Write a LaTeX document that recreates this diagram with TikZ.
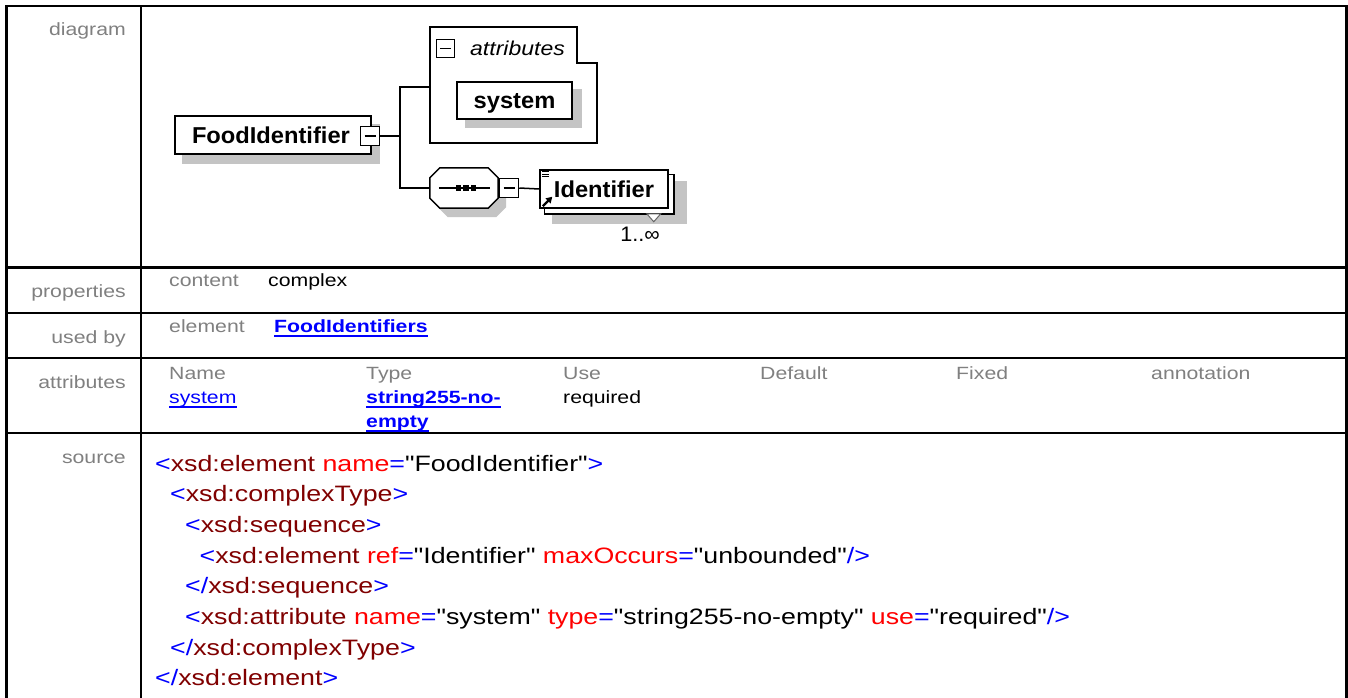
\documentclass[tikz,border=0pt]{standalone}
\usepackage{fontspec}
\setmainfont{Liberation Sans}
\newfontfamily\htmlfont[FakeStretch=1.2]{Liberation Sans}
\newfontfamily\diafont[FakeStretch=1.03]{Liberation Sans}
\newfontfamily\attfont[FakeStretch=1.15]{Liberation Sans}
\usetikzlibrary{arrows.meta,backgrounds,calc}
\definecolor{xgrey}{RGB}{128,128,128}
\definecolor{xblue}{RGB}{0,0,255}
\definecolor{xmaroon}{RGB}{128,0,0}
\definecolor{xred}{RGB}{255,0,0}
\definecolor{xshade}{RGB}{196,196,196}
\newcommand\tb[1]{\textcolor{xblue}{#1}}
\newcommand\tn[1]{\textcolor{xmaroon}{#1}}
\newcommand\ta[1]{\textcolor{xred}{#1}}
\newcommand\octo[3]{($(#1.north west)+(10+#2,#3)$) -- ($(#1.north east)+(-10+#2,#3)$) -- ($(#1.north east)+(#2,10+#3)$) -- ($(#1.south east)+(#2,-10+#3)$) -- ($(#1.south east)+(-10+#2,#3)$) -- ($(#1.south west)+(10+#2,#3)$) -- ($(#1.south west)+(#2,-10+#3)$) -- ($(#1.north west)+(#2,10+#3)$) -- cycle}
\begin{document}
\begin{tikzpicture}[x=1pt,y=-1pt,
  lab/.style={anchor=base east, inner sep=0pt, text=xgrey, font=\htmlfont\fontsize{17.7}{20}\selectfont},
  key/.style={anchor=base west, inner sep=0pt, text=xgrey, font=\htmlfont\fontsize{17.7}{20}\selectfont},
  val/.style={anchor=base west, inner sep=0pt, text=black, font=\htmlfont\fontsize{17.7}{20}\selectfont},
  link/.style={anchor=base west, inner sep=0pt, text=xblue, font=\htmlfont\fontsize{17.7}{20}\selectfont},
  blink/.style={anchor=base west, inner sep=0pt, text=xblue, font=\htmlfont\bfseries\fontsize{17.7}{20}\selectfont},
  ul/.style={draw=xblue, line width=1.6pt},
  srcline/.style={anchor=base west, inner sep=0pt, font=\htmlfont\fontsize{22.3}{26}\selectfont},
  grid/.style={line width=2.4pt, draw=black},
  frame/.style={draw=black, line width=1.5pt},
  elbox/.style={frame, fill=white, inner xsep=0pt, inner ysep=0pt, text height=16.5pt, text depth=0pt, font=\diafont\bfseries\fontsize{23}{26}\selectfont},
  minus/.style={frame, fill=white, minimum width=19pt, minimum height=19pt, inner sep=0pt},
  conn/.style={line width=1.5pt},
  shade/.style={fill=xshade},
]
\useasboundingbox (0,0) rectangle (1348,698);

% ---------- table grid ----------
\draw[grid] (6.5,698) -- (6.5,6) -- (1346.5,6) -- (1346.5,698);
\draw[grid] (141,6) -- (141,698);
\foreach \yy in {267.5,313,358,433} \draw[grid] (6.5,\yy) -- (1346.5,\yy);

% ---------- row labels ----------
\node[lab] (ldiag) at (126,36) {diagram};
\node[lab] (lprop) at (126,297.5) {properties};
\node[lab] (lused) at (126,343) {used by};
\node[lab] (lattr) at (126,388) {attributes};
\node[lab] (lsrc) at (126,463) {source};

% ---------- properties / used by ----------
\node[key] (kcontent) at (169,286.7) {content};
\node[val] (vcomplex) at (268,286.7) {complex};
\node[key] (kelement) at (169,332.7) {element};
\node[blink] (vfood) at (274,332.7) {FoodIdentifiers};
\draw[ul] ([shift={(0,3.5)}]vfood.base west) -- ([shift={(0,3.5)}]vfood.base east);

% ---------- attributes table ----------
\node[key] (hname) at (169,379.5) {Name};
\node[key] (htype) at (366,379.5) {Type};
\node[key] (huse) at (563,379.5) {Use};
\node[key] (hdef) at (760,379.5) {Default};
\node[key] (hfix) at (956,379.5) {Fixed};
\node[key] (hann) at (1151,379.5) {annotation};
\node[link] (vsys) at (169,403.5) {system};
\draw[ul] ([shift={(0,3.5)}]vsys.base west) -- ([shift={(0,3.5)}]vsys.base east);
\node[blink] (vtype1) at (366,403.5) {string255-no-};
\draw[ul] ([shift={(0,3.5)}]vtype1.base west) -- ([shift={(0,3.5)}]vtype1.base east);
\node[blink] (vtype2) at (366,427.5) {empty};
\draw[ul] ([shift={(0,3.5)}]vtype2.base west) -- ([shift={(0,3.5)}]vtype2.base east);
\node[val] (vuse) at (563,403.5) {required};

% ---------- source ----------
\node[srcline] (s1) at (155,471) {\tb{<}\tn{xsd:element} \ta{name}\tb{=}"FoodIdentifier"\tb{>}};
\node[srcline] (s2) at (170,501.7) {\tb{<}\tn{xsd:complexType}\tb{>}};
\node[srcline] (s3) at (185,532.4) {\tb{<}\tn{xsd:sequence}\tb{>}};
\node[srcline] (s4) at (199.5,563.1) {\tb{<}\tn{xsd:element} \ta{ref}\tb{=}"Identifier" \ta{maxOccurs}\tb{=}"unbounded"\tb{/>}};
\node[srcline] (s5) at (185,593.8) {\tb{</}\tn{xsd:sequence}\tb{>}};
\node[srcline] (s6) at (185,624.5) {\tb{<}\tn{xsd:attribute} \ta{name}\tb{=}"system" \ta{type}\tb{=}"string255-no-empty" \ta{use}\tb{=}"required"\tb{/>}};
\node[srcline] (s7) at (170,655.2) {\tb{</}\tn{xsd:complexType}\tb{>}};
\node[srcline] (s8) at (155,685.9) {\tb{</}\tn{xsd:element}\tb{>}};

% ---------- diagram ----------
\node[elbox, minimum width=196pt, minimum height=38pt, text width=162pt, inner xsep=17pt, align=left] (food) at (273,135) {FoodIdentifier};
\node[minus] (foodx) at (370,136) {};
\draw[conn] ([shift={(-5.5,0)}]foodx.center) -- ([shift={(5.5,0)}]foodx.center);

\node[inner sep=0pt, minimum width=167pt, minimum height=116pt] (attrs) at (513.5,85) {};
\draw[frame] (attrs.north west) -- ([shift={(-20,0)}]attrs.north east) -- ([shift={(-20,36)}]attrs.north east) -- ([shift={(0,36)}]attrs.north east) -- (attrs.south east) -- (attrs.south west) -- cycle;
\node[minus, minimum width=18pt, minimum height=18pt] (attrx) at (445.5,48.5) {};
\draw[conn] ([shift={(-5.5,0)}]attrx.center) -- ([shift={(5.5,0)}]attrx.center);
\node[anchor=base west, inner sep=0pt, font=\attfont\itshape\fontsize{20}{24}\selectfont] (attrt) at (470,56) {attributes};
\node[elbox, minimum width=115pt, minimum height=37pt] (sys) at (514.5,100.5) {system};

\node[inner sep=0pt, minimum width=68pt, minimum height=40pt] (seq) at (464,188) {};
\draw[frame, fill=white] \octo{seq}{0}{0};
\draw[conn] ([shift={(9,0)}]seq.west) -- ([shift={(-8,0)}]seq.east);
\foreach \dx in {-5.5,2,9.5} \fill ([shift={(\dx-2.75,-2.75)}]seq.center) rectangle ([shift={(\dx+2.75,2.75)}]seq.center);
\node[minus] (seqx) at (509,188) {};
\draw[conn] ([shift={(-5.5,0)}]seqx.center) -- ([shift={(5.5,0)}]seqx.center);

\node[elbox, minimum width=128pt, minimum height=38pt] (idf) at (604,189) {Identifier};
\foreach \dy in {2.5,4.8,7.1} \draw[line width=1.1pt] ([shift={(3,\dy)}]idf.north west) -- ([shift={(10,\dy)}]idf.north west);
\draw[line width=2.3pt, -{Triangle[length=6pt,width=7pt]}] ([shift={(3.5,-2.5)}]idf.south west) -- ([shift={(13,-12)}]idf.south west);
\node[inner sep=0pt, font=\diafont\fontsize{21}{24}\selectfont] (mult) at (640,234) {1..∞};

% connectors
\coordinate (fork) at (400,136);
\draw[conn] (foodx.east) -- (fork);
\draw[conn] ([shift={(0,2)}]attrs.west) -| (fork) |- (seq.west);
\draw[conn] (seq.east) -- (seqx.west);
\draw[conn] (seqx.east) -- (idf.west);

% ---------- background layer: white, shadows, back box ----------
\begin{pgfonlayer}{background}
\fill[white] (0,0) rectangle (1348,698);
\fill[shade] ([shift={(8,9)}]food.north west) rectangle ([shift={(8,9)}]food.south east);
\fill[shade] ([shift={(9,8)}]sys.north west) rectangle ([shift={(9,8)}]sys.south east);
\fill[shade] \octo{seq}{8}{9};
\fill[shade] ([shift={(13,12)}]idf.north west) rectangle ([shift={(18,15)}]idf.south east);
\draw[frame, fill=white] ([shift={(5,5)}]idf.north west) rectangle ([shift={(5,5)}]idf.south east);
\draw[black!60, fill=white, line width=1pt] ([shift={(-22,5)}]idf.south east) -- ([shift={(-8,5)}]idf.south east) -- ([shift={(-15,13)}]idf.south east) -- cycle;
\end{pgfonlayer}
\end{tikzpicture}
\end{document}
